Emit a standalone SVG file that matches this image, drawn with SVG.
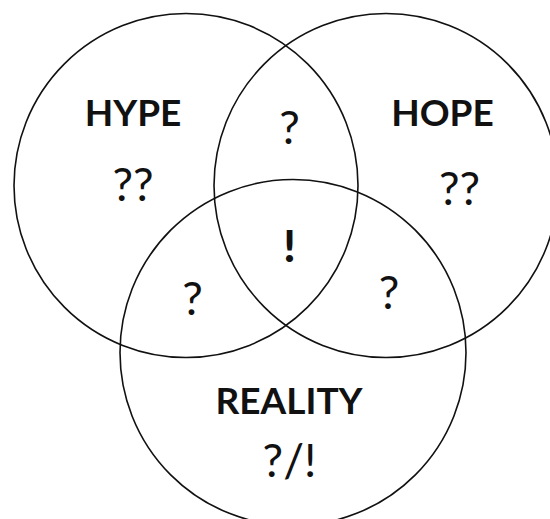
<svg xmlns="http://www.w3.org/2000/svg" width="550" height="519" viewBox="0 0 550 519">
<style>
.c{fill:none;stroke:#111;stroke-width:1.6}
.lbl{font-family:Lato,"Liberation Sans",sans-serif;font-weight:700;font-size:37px;fill:#111;text-anchor:middle}
.q{font-family:Lato,"Liberation Sans",sans-serif;font-weight:400;font-size:46px;fill:#111;text-anchor:middle}
.ex{font-family:Lato,"Liberation Sans",sans-serif;font-weight:900;font-size:44px;fill:#111;text-anchor:middle}
</style>
<rect width="550" height="519" fill="#fff"/>
<g id="hype">
<circle class="c" cx="186" cy="185.5" r="172"/>
<text class="lbl" x="133" y="126">HYPE</text>
<text class="q" x="133" y="201">??</text>
</g>
<g id="hope">
<circle class="c" cx="386" cy="185.5" r="172"/>
<text class="lbl" x="442.5" y="126">HOPE</text>
<text class="q" x="459.5" y="205">??</text>
</g>
<g id="reality">
<circle class="c" cx="293" cy="352.5" r="173"/>
<text class="lbl" x="289" y="414">REALITY</text>
<text class="q" x="289.5" y="477">?/!</text>
</g>
<g id="overlaps">
<text class="q" x="289.5" y="144.3">?</text>
<text class="q" x="192.5" y="315">?</text>
<text class="q" x="389" y="309">?</text>
<text class="ex" x="289.5" y="262">!</text>
</g>
<g id="connectors"></g>
</svg>
